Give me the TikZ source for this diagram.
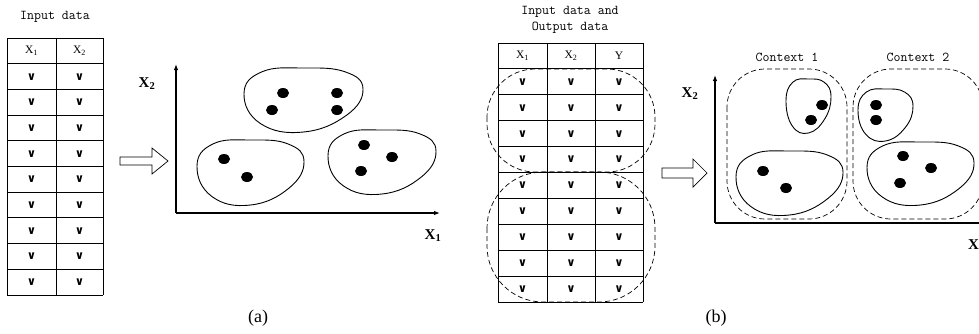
\documentclass[tikz,border=0pt]{standalone}
\usepackage{fontspec}
\setmainfont{Liberation Serif}
\newfontfamily\symfont{DejaVu Sans}
\usetikzlibrary{arrows.meta}
\newcommand\myblob[4]{%
  \begin{scope}[shift={(#1,#2)},xscale=#3,yscale=#4]
    \draw[blobline] plot[smooth cycle,tension=0.75] coordinates {(0,0.4) (0.15,0.06) (0.5,0) (0.85,0.06) (1,0.33) (0.86,0.74) (0.5,1) (0.14,0.87)};
  \end{scope}}
\newcommand\mydot[2]{\fill (#1,#2) ellipse [x radius=6, y radius=5];}
\begin{document}
\begin{tikzpicture}[x=1pt,y=-1pt,
  tab/.style={line width=0.9pt},
  hdr/.style={inner sep=0pt,font=\fontsize{11.5}{12}\selectfont},
  chk/.style={inner sep=0pt,font=\symfont\bfseries\fontsize{11.5}{12}\selectfont},
  mono/.style={inner sep=0pt,align=center,font=\ttfamily\fontsize{13.5}{16}\selectfont},
  axlab/.style={inner sep=0pt,font=\bfseries\fontsize{15}{16}\selectfont},
  capt/.style={inner sep=0pt,font=\fontsize{18}{20}\selectfont},
  axis/.style={line width=1.1pt,-{Latex[length=6pt,width=4.5pt]}},
  blobline/.style={line width=0.9pt},
  ctx/.style={dash pattern=on 5pt off 3pt,line width=0.7pt},
  hollow/.style={line width=0.7pt,fill=white}]
\useasboundingbox (0,0) rectangle (979,333);
\clip (0,0) rectangle (979,333);

% ---------- (a) table ----------
\node[mono] (ina) at (55,17) {Input data};
\foreach \r in {0,...,10} \draw[tab] (7,{38+25.7*\r}) -- (103,{38+25.7*\r});
\foreach \x in {7,56,103} \draw[tab] (\x,38) -- (\x,295);
\node[hdr] (ta-h1) at (31.5,51) {X\textsubscript{1}};
\node[hdr] (ta-h2) at (79.5,51) {X\textsubscript{2}};
\foreach \r in {1,...,9} {
  \node[chk] (ta-\r-1) at (31.5,{38+25.7*\r+13}) {∨};
  \node[chk] (ta-\r-2) at (79.5,{38+25.7*\r+13}) {∨};
}

% ---------- (a) arrow ----------
\draw[hollow] (120,157) -- (152,157) -- (152,148) -- (168,161) -- (152,174) -- (152,165) -- (120,165) -- cycle;

% ---------- (a) plot ----------
\coordinate (oa) at (176,213);
\coordinate (ya) at (176,64);
\coordinate (xa) at (440,213);
\draw[axis] (oa) -- (ya);
\draw[axis] (oa) -- (xa);
\node[axlab] (a-x2) at (147,84) {X\textsubscript{2}};
\node[axlab] (a-x1) at (433,236) {X\textsubscript{1}};
\myblob{244}{68}{119}{64}
\mydot{283}{93}\mydot{337}{93}\mydot{272}{110}\mydot{337}{110}
\myblob{197}{140}{107}{65}
\mydot{224}{159}\mydot{247}{177}
\myblob{328}{130}{108}{64}
\mydot{364}{145}\mydot{392}{157}\mydot{361}{171}
\node[capt] (capa) at (258,318) {(a)};

% ---------- (b) table ----------
\node[mono] (inb) at (570,20) {Input data and\\Output data};
\foreach \r in {0,...,10} \draw[tab] (498,{43+25.9*\r}) -- (643,{43+25.9*\r});
\foreach \x in {498,547,595,643} \draw[tab] (\x,43) -- (\x,302);
\node[hdr] (tb-h1) at (522.5,56) {X\textsubscript{1}};
\node[hdr] (tb-h2) at (571,56) {X\textsubscript{2}};
\node[hdr] (tb-h3) at (619,56) {Y};
\foreach \r in {1,...,9} {
  \node[chk] (tb-\r-1) at (522.5,{43+25.9*\r+13}) {∨};
  \node[chk] (tb-\r-2) at (571,{43+25.9*\r+13}) {∨};
  \node[chk] (tb-\r-3) at (619,{43+25.9*\r+13}) {∨};
}
\draw[ctx,rounded corners=48] (487,69) rectangle (655,172);
\draw[ctx,rounded corners=56] (487,172) rectangle (655,302);

% ---------- (b) arrow ----------
\draw[hollow] (662,168) -- (693,168) -- (693,159) -- (707,173) -- (693,187) -- (693,178) -- (662,178) -- cycle;

% ---------- (b) plot ----------
\coordinate (ob) at (715,223);
\coordinate (yb) at (715,75);
\coordinate (xb) at (985,223);
\draw[axis] (ob) -- (yb);
\draw[axis] (ob) -- (xb);
\node[axlab] (b-x2) at (690,94) {X\textsubscript{2}};
\node[axlab,anchor=west] (b-x1) at (968,246) {X\textsubscript{1}};
\draw[ctx,rounded corners=38] (727,69) rectangle (847,219);
\draw[ctx,rounded corners=38] (853,69) rectangle (983,219);
\node[mono] (c1) at (787,57) {Context 1};
\node[mono] (c2) at (918,57) {Context 2};
\myblob{786}{79}{45}{54}
\mydot{822}{105}\mydot{811}{120}
\myblob{736}{151}{107}{64}
\mydot{763}{171}\mydot{786}{188}
\myblob{858}{89}{55}{52}
\mydot{876}{105}\mydot{876}{120}
\myblob{867}{142}{107}{63}
\mydot{903}{156}\mydot{931}{168}\mydot{900}{183}
\node[capt] (capb) at (716,318) {(b)};
\end{tikzpicture}
\end{document}
